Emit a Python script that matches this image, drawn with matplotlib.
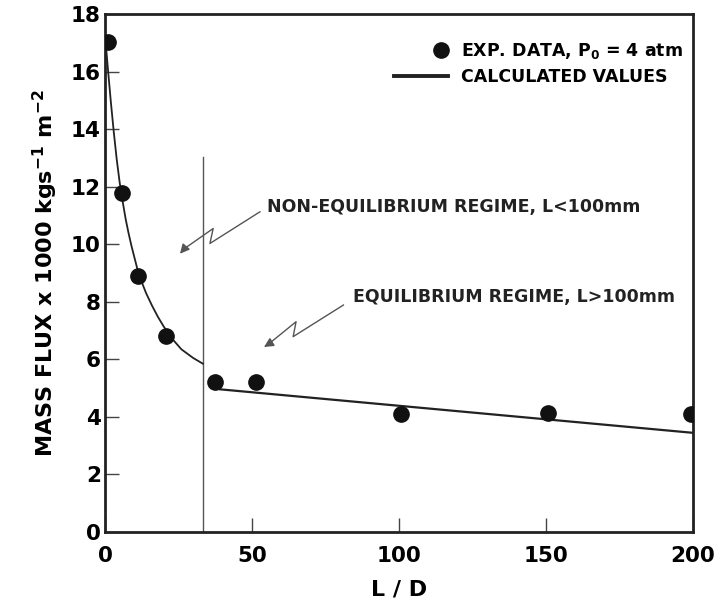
import numpy as np
import matplotlib
matplotlib.use("Agg")
import matplotlib.pyplot as plt
from matplotlib.legend_handler import HandlerLine2D

plt.rcParams['font.family'] = ['DejaVu Sans']
plt.rcParams['font.weight'] = 'bold'
plt.rcParams['mathtext.default'] = 'bf'

# Experimental data (P0 = 4 atm)
exp_ld = [1, 5.7, 11.3, 20.7, 37.4, 51.4, 100.7, 150.6, 199.3]
exp_flux = [17.05, 11.8, 8.9, 6.8, 5.2, 5.2, 4.1, 4.15, 4.1]

# Calculated values, non-equilibrium part (L < 100mm)
calc_ld_ne = [0, 1, 2, 3, 4, 5, 6, 7, 8, 9, 10, 11, 12, 14, 16, 18, 20, 23, 26, 30, 33.3]
calc_flux_ne = [17.3, 16.1, 14.95, 13.9, 12.95, 12.15, 11.5, 10.9, 10.4, 9.95, 9.55,
                9.15, 8.82, 8.3, 7.87, 7.48, 7.14, 6.7, 6.35, 6.05, 5.85]

# Calculated values, equilibrium part (L > 100mm)
calc_ld_eq = [39.1, 199.7]
calc_flux_eq = [4.96, 3.45]

# regime boundary
boundary_ld = 33.3
boundary_top = 13.05


# legend handler that puts the marker at the right end of the handle box
class RightMarker(HandlerLine2D):
    def create_artists(self, legend, orig_handle, xdescent, ydescent, width, height, fontsize, trans):
        arts = super().create_artists(legend, orig_handle, xdescent, ydescent,
                                      width, height, fontsize, trans)
        for a in arts:
            xd = np.asarray(a.get_xdata(), dtype=float)
            a.set_xdata(np.full_like(xd, -xdescent + 0.86 * width))
        return arts


fig = plt.figure(figsize=(7.17, 6.02), dpi=100)
ax = fig.add_axes([0.1464, 0.1163, 0.8201, 0.8601])

ax.plot(calc_ld_ne, calc_flux_ne, color='#222222', lw=1.3, zorder=2)
calc_line, = ax.plot(calc_ld_eq, calc_flux_eq, color='#222222', lw=1.6, zorder=2)
exp_pts, = ax.plot(exp_ld, exp_flux, 'o', color='#111111', ms=11, zorder=3)
ax.plot([boundary_ld, boundary_ld], [0, boundary_top], color='#555555', lw=1.0, zorder=1)

# lightning-style arrows
ne_zig_x = [52.7, 35.7, 36.8, 27.0]
ne_zig_y = [11.13, 10.03, 10.55, 9.85]
eq_zig_x = [81.1, 64.0, 65.0, 55.5]
eq_zig_y = [7.89, 6.79, 7.31, 6.52]
for zx, zy in [(ne_zig_x, ne_zig_y), (eq_zig_x, eq_zig_y)]:
    ax.plot(zx, zy, color='#555555', lw=1.0)
ax.annotate('', xy=(24.9, 9.6), xytext=(ne_zig_x[-1], ne_zig_y[-1]),
            arrowprops=dict(arrowstyle='-|>', color='#555555', lw=1.0, mutation_scale=14))
ax.annotate('', xy=(53.3, 6.38), xytext=(eq_zig_x[-1], eq_zig_y[-1]),
            arrowprops=dict(arrowstyle='-|>', color='#555555', lw=1.0, mutation_scale=14))

ax.text(55, 11.3, 'NON-EQUILIBRIUM REGIME, L<100mm', fontsize=12.5, fontweight='bold',
        color='#222222', va='center', ha='left')
ax.text(84.5, 8.18, 'EQUILIBRIUM REGIME, L>100mm', fontsize=12.5, fontweight='bold',
        color='#222222', va='center', ha='left')

ax.set_xlim(0, 200)
ax.set_ylim(0, 18)
ax.set_xticks([0, 50, 100, 150, 200])
ax.set_yticks(np.arange(0, 19, 2))
ax.tick_params(direction='in', length=10, width=1.0, labelsize=15.5, color='#444444')
ax.tick_params(axis='x', pad=10)
ax.tick_params(axis='y', pad=3)
for lab in ax.get_xticklabels() + ax.get_yticklabels():
    lab.set_fontweight('bold')
for s in ax.spines.values():
    s.set_linewidth(2.0)
    s.set_color('#222222')

ax.set_xlabel('L / D', fontsize=16, fontweight='bold', labelpad=10)
ax.set_ylabel('MASS FLUX x 1000 kgs$^{-1}$ m$^{-2}$', fontsize=16, fontweight='bold', labelpad=8)

leg = ax.legend([exp_pts, calc_line], ['EXP. DATA, P$_0$ = 4 atm', 'CALCULATED VALUES'],
                loc='upper right', bbox_to_anchor=(0.983, 0.949), frameon=False,
                handlelength=3.1, handletextpad=0.75, labelspacing=0.45,
                borderaxespad=0, borderpad=0, handler_map={exp_pts: RightMarker()},
                prop={'weight': 'bold', 'size': 12.5})
leg.get_lines()[1].set_linewidth(2.8)

fig.savefig('out.png', dpi=100)
